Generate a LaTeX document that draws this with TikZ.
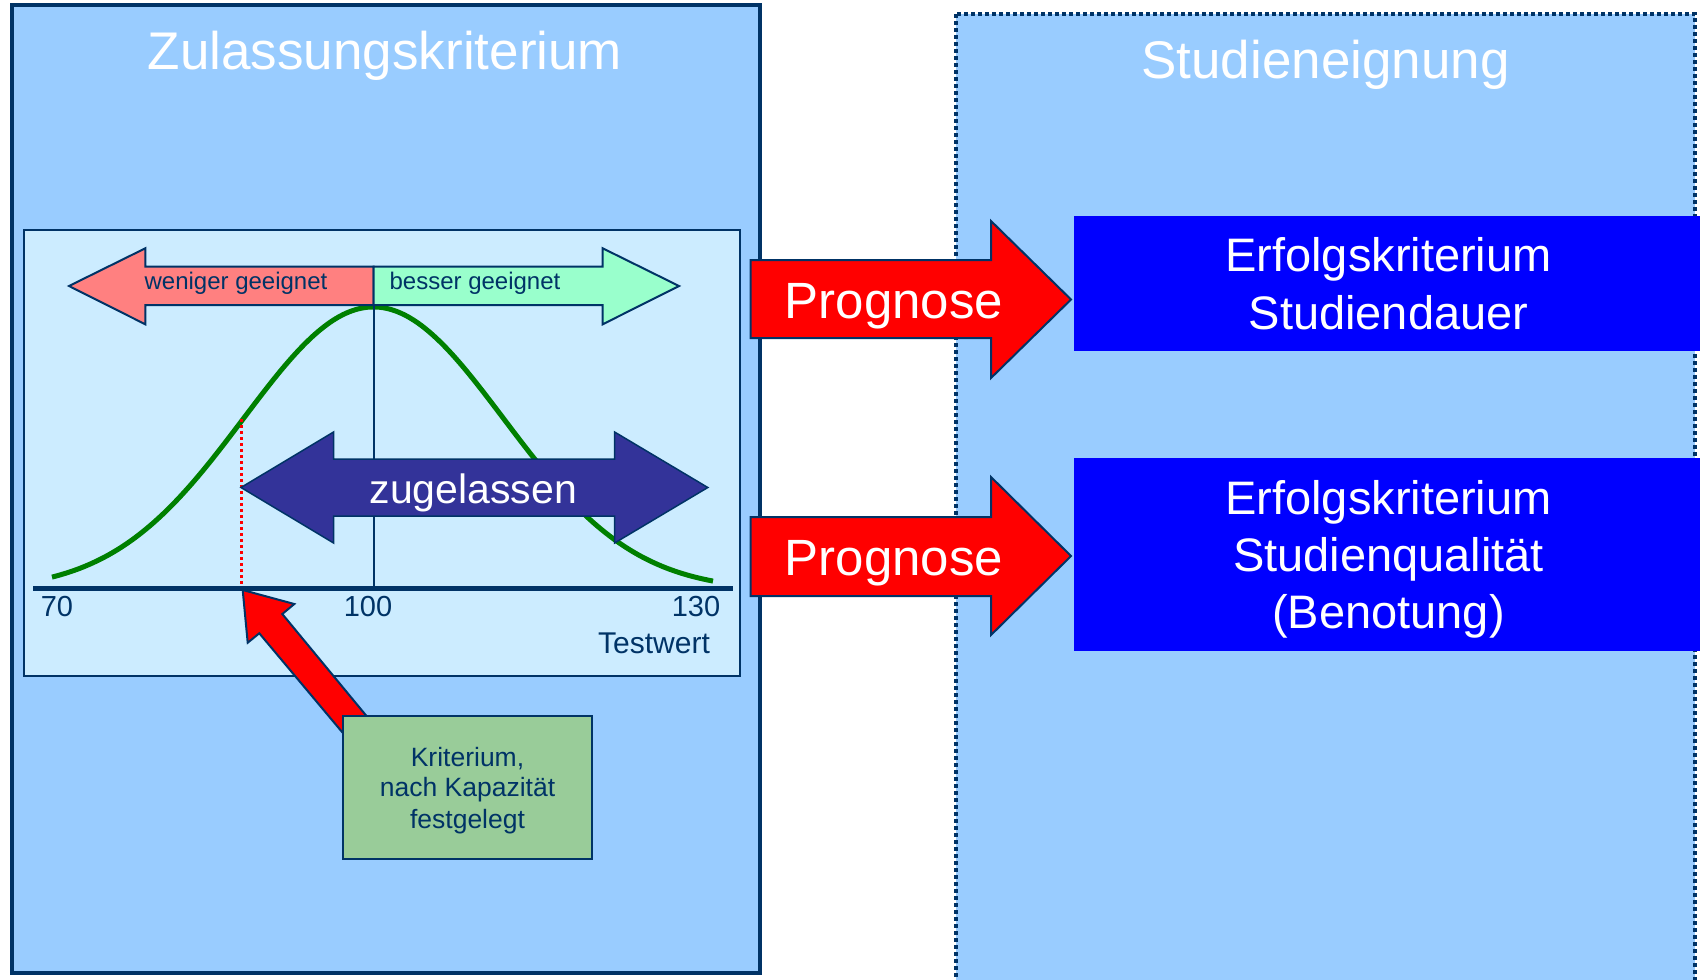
\documentclass[tikz,border=0pt]{standalone}
\usepackage{fontspec}
\setmainfont{Liberation Sans}
\usetikzlibrary{calc}
\definecolor{navy}{HTML}{003366}
\definecolor{panelblue}{HTML}{99CCFF}
\definecolor{innerblue}{HTML}{CCECFF}
\definecolor{salmon}{HTML}{FF8080}
\definecolor{mint}{HTML}{99FFCC}
\definecolor{zugblue}{HTML}{333399}
\definecolor{boxgreen}{HTML}{99CC99}
\definecolor{curvegreen}{HTML}{008000}
\definecolor{pureblue}{HTML}{0000FF}
\definecolor{purered}{HTML}{FF0000}
\newcommand{\fsz}[1]{\fontsize{#1pt}{#1pt}\selectfont}
\tikzset{
  txt/.style={inner sep=0pt, outer sep=0pt, anchor=base},
  title/.style={txt, text=white, font=\fsz{26.5}},
  boxtext/.style={txt, text=white, font=\fsz{23.5}},
  progtext/.style={txt, text=white, font=\fsz{25.5}},
  smalltext/.style={txt, text=navy, font=\fsz{12}},
  axistext/.style={txt, text=navy, font=\fsz{14.5}},
  krittext/.style={txt, text=navy, font=\fsz{13.25}},
  outline/.style={draw=navy, line width=1pt},
  blockbox/.style={rectangle, inner sep=0pt, outer sep=0pt, draw=none, fill=pureblue, minimum width=313pt},
  greenbox/.style={rectangle, inner sep=0pt, outer sep=0pt, draw=navy, line width=1pt, fill=boxgreen, minimum width=124.5pt, minimum height=71.7pt},
}
\begin{document}
\begin{tikzpicture}[x=0.5pt,y=-0.5pt]
\useasboundingbox (0,0) rectangle (1700,979);
\clip (0,0) rectangle (1700,979);

% right panel (dotted)
\draw[navy, line width=1.7pt, dash pattern=on 2pt off 1.5pt, fill=panelblue] (956,14) rectangle (1695,1010);
\node[title] (stud) at (1325.5,78.3) {Studieneignung};

% left panel
\draw[navy, line width=2pt, fill=panelblue] (12,5.5) rectangle (759.5,973);
\node[title] (zul) at (385,69.3) {Zulassungskriterium};

% inner chart box
\draw[navy, line width=1pt, fill=innerblue] (23.5,230) rectangle (740,676);

% bell curve
\draw[curvegreen, line width=2.5pt] plot[domain=52:713, samples=120, smooth]
  ({\x},{590.4-283.4*exp(-0.5*((\x-373.5)/130)^2)});

% top arrows
\draw[outline, fill=salmon] (373.5,266.5) -- (145.3,266.5) -- (145.3,248.3) -- (69,286)
  -- (145.3,324.3) -- (145.3,305) -- (373.5,305) -- cycle;
\draw[outline, fill=mint] (373.5,266.5) -- (602.7,266.5) -- (602.7,248.3) -- (679,286)
  -- (602.7,324.3) -- (602.7,305) -- (373.5,305) -- cycle;
\node[smalltext] (wen) at (236,289) {weniger geeignet};
\node[smalltext] (bes) at (475,289) {besser geeignet};

% centre line
\coordinate (peak) at (373.5,305);
\coordinate (mid) at (373.5,588);
\draw[navy, line width=1pt] (peak) -- (mid);

% cut-off line
\coordinate (cutTop) at (241,419);
\coordinate (cutBot) at (241,586);
\draw[purered, line width=1.5pt, dash pattern=on 1.5pt off 1.5pt] (cutTop) -- (cutBot);

% admitted arrow
\draw[draw=navy, line width=0.75pt, fill=zugblue] (241,487.5) -- (333.6,432) -- (333.6,459)
  -- (614.6,459) -- (614.6,432) -- (707.8,487.5) -- (614.6,543) -- (614.6,516)
  -- (333.6,516) -- (333.6,543) -- cycle;
\node[txt, text=white, font=\fsz{20.5}] (zug) at (473.4,503.3) {zugelassen};

% axis
\coordinate (axL) at (33,588);
\coordinate (axR) at (733,588);
\draw[navy, line width=2.5pt] (axL) -- (axR);
\node[axistext] (t70) at (57,616) {70};
\node[axistext] (t100) at (368,616) {100};
\node[axistext] (t130) at (696,616) {130};
\node[txt, text=navy, font=\fsz{15}] (testw) at (654,653.3) {Testwert};

% pointer arrow from the criterion box to the axis
\draw[outline, fill=purered] (242.7,590) -- (294.3,604) -- (282.3,614) -- (390.7,745.3)
  -- (369.4,764.6) -- (259.3,633.3) -- (247.7,642.7) -- cycle;

% criterion box
\node[greenbox] (krit) at (467.5,787.3) {};
\node[krittext] (k1) at (467.5,766) {Kriterium,};
\node[krittext] (k2) at (467.5,796.7) {nach Kapazität};
\node[krittext] (k3) at (467.5,828.3) {festgelegt};

% target boxes
\node[blockbox, minimum height=67.5pt] (dauer) at (1387,283.5) {};
\node[boxtext] (d1) at (1388.5,271.7) {Erfolgskriterium};
\node[boxtext] (d2) at (1388.5,329.3) {Studiendauer};
\node[blockbox, minimum height=96.5pt] (qual) at (1387,554.5) {};
\node[boxtext] (q1) at (1388.5,514) {Erfolgskriterium};
\node[boxtext] (q2) at (1388.5,571) {Studienqualität};
\node[boxtext] (q3) at (1388.5,628.3) {(Benotung)};

% Prognose arrows
\draw[outline, fill=purered] (750.5,260) -- (991,260) -- (991,221) -- (1071,299.5)
  -- (991,378) -- (991,338) -- (750.5,338) -- cycle;
\node[progtext] (p1) at (894,318) {Prognose};
\draw[outline, fill=purered] (750.5,517) -- (991,517) -- (991,477) -- (1071,556)
  -- (991,635) -- (991,596) -- (750.5,596) -- cycle;
\node[progtext] (p2) at (894,575.7) {Prognose};
\end{tikzpicture}
\end{document}
